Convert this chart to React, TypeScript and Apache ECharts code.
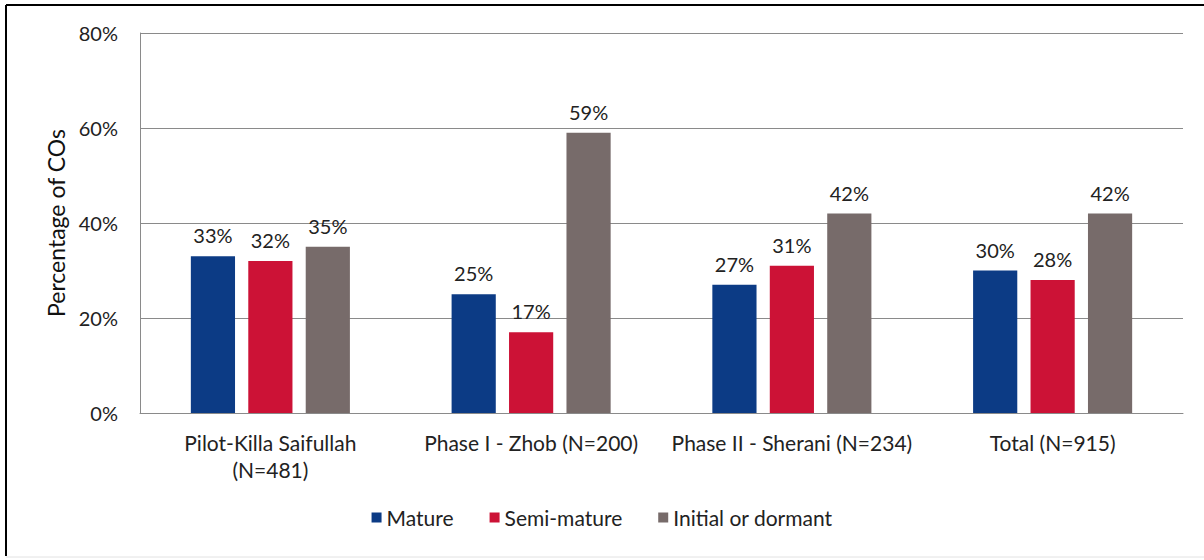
import React, { useEffect, useRef } from "react";
import * as echarts from "echarts";

const categories = [
  "Pilot-Killa Saifullah\n(N=481)",
  "Phase I - Zhob (N=200)",
  "Phase II - Sherani (N=234)",
  "Total (N=915)",
];
const mature = [33, 25, 27, 30];
const semiMature = [32, 17, 31, 28];
const initialDormant = [35, 59, 42, 42];
const yTicks = { min: 0, max: 80, interval: 20 };

const FONT = "Lato";

export default function App() {
  const ref = useRef<HTMLDivElement>(null);
  useEffect(() => {
    if (!ref.current) return;
    const chart = echarts.init(ref.current, null, { renderer: "svg" });
    const label = {
      show: true,
      position: "top" as const,
      distance: 11,
      formatter: "{c}%",
      color: "#222",
      fontSize: 20,
      fontFamily: FONT,
    };
    const mk = (name: string, data: number[], color: string) => ({
      name,
      type: "bar" as const,
      data,
      itemStyle: { color },
      barGap: "30%",
      barCategoryGap: "39%",
      label,
    });
    chart.setOption({
      animation: false,
      backgroundColor: "#fff",
      textStyle: { fontFamily: FONT },
      grid: { left: 140, right: 21, top: 33, bottom: 147 },
      legend: {
        bottom: 27,
        left: "center",
        icon: "rect",
        itemWidth: 10,
        itemHeight: 10,
        itemGap: 36,
        textStyle: { fontSize: 21, color: "#222", fontFamily: FONT },
        data: ["Mature", "Semi-mature", "Initial or dormant"],
      },
      xAxis: {
        type: "category",
        data: categories,
        axisTick: { show: false },
        axisLine: { lineStyle: { color: "#8a8a8a", width: 1 } },
        axisLabel: {
          color: "#222",
          fontSize: 21,
          fontFamily: FONT,
          margin: 16,
          lineHeight: 27,
          interval: 0,
        },
      },
      yAxis: {
        type: "value",
        min: yTicks.min,
        max: yTicks.max,
        interval: yTicks.interval,
        name: "Percentage of COs",
        nameLocation: "middle",
        nameGap: 72,
        nameTextStyle: { fontSize: 23, color: "#111", fontFamily: FONT },
        axisLine: { show: true, lineStyle: { color: "#8a8a8a", width: 1 } },
        axisTick: { show: false },
        axisLabel: {
          formatter: "{value}%",
          color: "#222",
          fontSize: 20,
          fontFamily: FONT,
          margin: 22,
        },
        splitLine: { lineStyle: { color: "#8a8a8a", width: 1 } },
      },
      graphic: [
        { type: "line", shape: { x1: 6, y1: 5, x2: 1204, y2: 5 }, style: { stroke: "#000", lineWidth: 2 } },
        { type: "line", shape: { x1: 6, y1: 5, x2: 6, y2: 556 }, style: { stroke: "#000", lineWidth: 2 } },
        { type: "line", shape: { x1: 6, y1: 557, x2: 1204, y2: 557 }, style: { stroke: "#e2e2e2", lineWidth: 1 } },
      ],
      series: [
        mk("Mature", mature, "#0C3B85"),
        mk("Semi-mature", semiMature, "#CC1236"),
        mk("Initial or dormant", initialDormant, "#776B6A"),
      ],
    });
    return () => chart.dispose();
  }, []);
  return (
    <div
      ref={ref}
      style={{ position: "absolute", left: 0, top: 0, width: 1204, height: 560 }}
    />
  );
}
